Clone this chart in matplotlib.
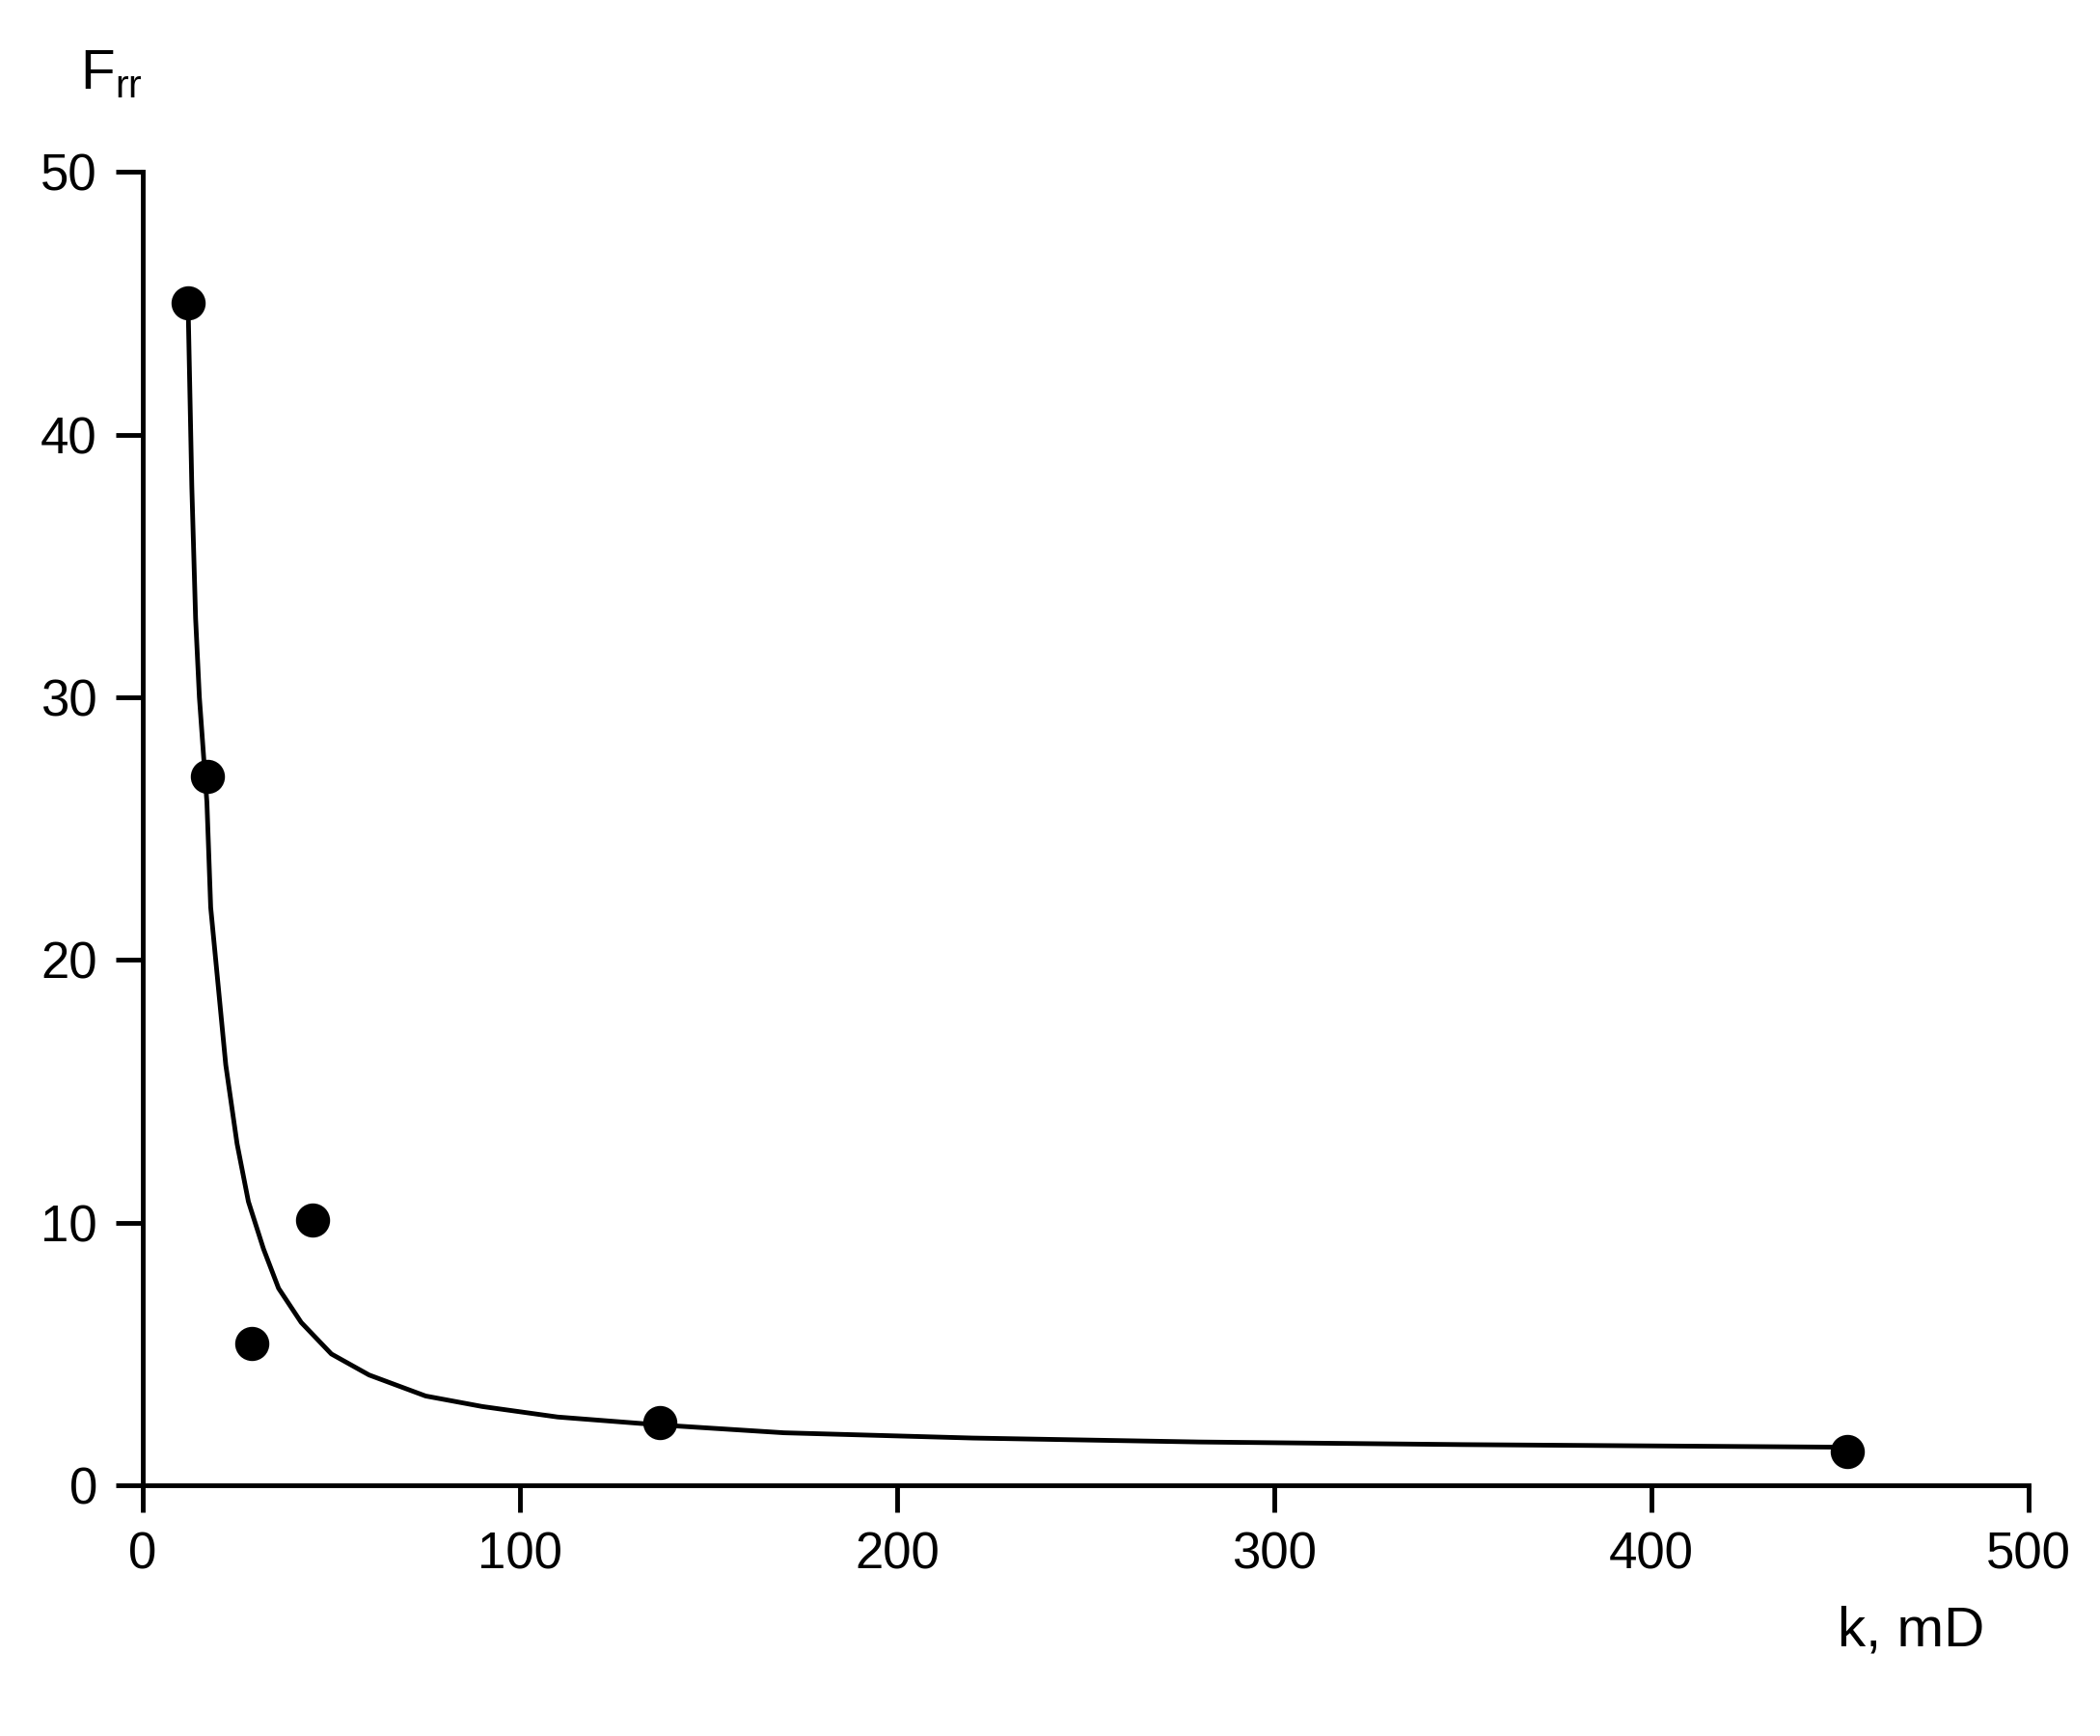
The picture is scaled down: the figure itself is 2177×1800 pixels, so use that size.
import matplotlib.pyplot as plt

plt.rcParams['font.family'] = ['Liberation Sans', 'DejaVu Sans']

# measured points
k_pts = [12, 17, 29, 45, 137, 452]
frr_pts = [45, 27, 5.4, 10.1, 2.4, 1.3]

# trend line
k_line = [12, 13, 14, 15, 17, 18, 20, 22, 25, 28, 32, 36, 42, 50, 60, 75, 90,
          110, 137, 170, 220, 280, 350, 452]
frr_line = [45, 38, 33, 30, 26, 22, 19, 16, 13, 10.8, 9, 7.5, 6.2, 5.0, 4.2,
            3.4, 3.0, 2.6, 2.3, 2.0, 1.8, 1.65, 1.55, 1.45]

x_ticks = [0, 100, 200, 300, 400, 500]
y_ticks = [0, 10, 20, 30, 40, 50]

fig = plt.figure(figsize=(21.77, 18), dpi=100)
ax = fig.add_axes([0.068, 0.1444, 0.898, 0.7566])

ax.plot(k_line, frr_line, color='black', lw=3.5)
ax.scatter(k_pts, frr_pts, s=600, color='black', zorder=3, clip_on=False)

ax.set_xlim(0, 500)
ax.set_ylim(0, 50)
ax.set_xticks(x_ticks)
ax.set_yticks(y_ticks)
for s in ['top', 'right']:
    ax.spines[s].set_visible(False)
for s in ['left', 'bottom']:
    ax.spines[s].set_linewidth(3.5)
ax.tick_params(axis='both', direction='out', length=20, width=3.5,
               labelsize=38, pad=14)

fig.text(0.038, 0.957, r'F$_{\mathregular{rr}}$', fontsize=42, ha='left', va='center')
fig.text(0.945, 0.06, 'k, mD', fontsize=42, ha='right', va='center')

fig.savefig('out.png', dpi=100)
